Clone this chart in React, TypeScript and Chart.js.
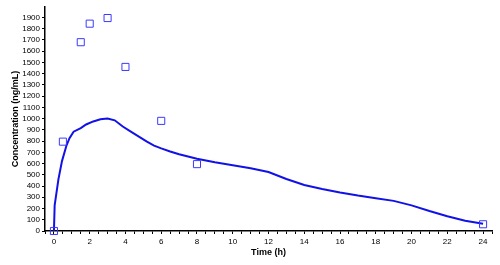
import React, { useEffect, useRef } from "react";
import { Chart, registerables } from "chart.js";

Chart.register(...registerables);

const obsTime = [0, 0.5, 1.5, 2, 3, 4, 6, 8, 24];
const obsConc = [0, 795, 1680, 1845, 1895, 1460, 980, 595, 60];

const predTime = [0, 0.04, 0.25, 0.45, 0.7, 0.87, 1.1, 1.5, 1.8, 2.2, 2.6, 3, 3.4, 3.85, 4.3, 4.75, 5.2, 5.6, 6, 6.5, 7, 8, 9, 10, 11, 12, 13, 14, 15, 16, 17, 18, 19, 20, 21, 22, 23, 24];
const predConc = [0, 228, 460, 622, 760, 826, 884, 915, 948, 975, 995, 1001, 985, 930, 885, 840, 795, 760, 735, 708, 683, 643, 611, 585, 558, 525, 463, 410, 374, 342, 315, 292, 268, 228, 178, 132, 92, 65];

const yTickValues = [0, 100, 200, 300, 400, 500, 600, 700, 800, 900, 1000, 1100, 1200, 1300, 1400, 1500, 1600, 1700, 1800, 1900];
const xTickLabelEvery = 2;

export default function App() {
  const ref = useRef<HTMLCanvasElement>(null);
  useEffect(() => {
    document.body.style.margin = "0";
    const ctx = ref.current!;
    const font = { family: "'Liberation Sans', Arial, sans-serif", size: 8 };
    const titleFont = { family: "'Liberation Sans', Arial, sans-serif", size: 9, weight: "bold" as const };
    const chart = new Chart(ctx, {
      type: "scatter",
      data: {
        datasets: [
          {
            label: "Observed",
            data: obsTime.map((t, i) => ({ x: t, y: obsConc[i] })),
            pointStyle: "rect",
            pointRadius: 5,
            pointBorderWidth: 1,
            borderColor: "#3a3aff",
            backgroundColor: "rgba(0,0,0,0)",
            showLine: false,
            clip: false,
          },
          {
            label: "Predicted",
            data: predTime.map((t, i) => ({ x: t, y: predConc[i] })),
            showLine: true,
            borderColor: "#1212e6",
            borderWidth: 2,
            pointRadius: 0,
            tension: 0,
            clip: false,
          },
        ],
      },
      options: {
        animation: false,
        responsive: false,
        layout: { padding: { top: 3, right: 8, left: 0, bottom: 0 } },
        plugins: { legend: { display: false }, tooltip: { enabled: false } },
        scales: {
          x: {
            type: "linear",
            min: -0.5,
            max: 24.5,
            afterFit: (s: any) => { s.height = 34; },
            grid: { drawOnChartArea: false, drawTicks: true, tickLength: 3, color: "#000" },
            border: { display: true, color: "#000", width: 1.5 },
            ticks: {
              stepSize: 0.5,
              autoSkip: false,
              maxRotation: 0,
              padding: 3,
              color: "#000",
              font,
              callback: (v: any) => (Number(v) >= 0 && Number(v) % xTickLabelEvery === 0 ? String(v) : ""),
            },
            title: { display: true, text: "Time (h)", color: "#000", font: titleFont, padding: { top: 0, bottom: 7 } },
          },
          y: {
            type: "linear",
            min: 0,
            max: 1995,
            afterFit: (s: any) => { s.width = 45; },
            afterBuildTicks: (s: any) => {
              s.ticks = yTickValues.map((v) => ({ value: v }));
            },
            grid: { drawOnChartArea: false, drawTicks: true, tickLength: 3, color: "#000" },
            border: { display: true, color: "#000", width: 1.5 },
            ticks: { autoSkip: false, padding: 2, color: "#000", font, callback: (v: any) => String(v) },
            title: { display: true, text: "Concentration (ng/mL)", color: "#000", font: titleFont, padding: { top: 10, bottom: 0 } },
          },
        },
      },
    });
    return () => chart.destroy();
  }, []);
  return <canvas ref={ref} width={500} height={265} style={{ display: "block" }} />;
}
